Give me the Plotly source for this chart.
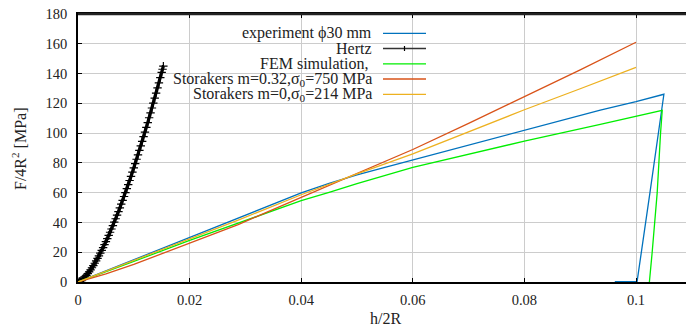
import plotly.graph_objects as go

# ---- data ----
exp_x = [0, 0.005, 0.01, 0.02, 0.03, 0.035, 0.04, 0.045, 0.05, 0.055, 0.06, 0.07, 0.0738, 0.08, 0.0936, 0.1, 0.105, 0.1025, 0.1002, 0.0962]
exp_y = [0, 7.5, 15.0, 29.9, 45.0, 52.6, 59.8, 66.2, 71.9, 77.0, 82.0, 92.0, 95.4, 101.5, 115.5, 121.1, 126.1, 60.0, 0.4, 0.3]

hertz_x = [0, 0.00025, 0.0005, 0.00075, 0.001, 0.00125, 0.0015, 0.00175, 0.002, 0.00225, 0.0025,
           0.00275, 0.003, 0.00325, 0.0035, 0.00375, 0.004, 0.00425, 0.0045, 0.00475, 0.005,
           0.00525, 0.0055, 0.00575, 0.006, 0.00625, 0.0065, 0.00675, 0.007, 0.00725, 0.0075,
           0.00775, 0.008, 0.00825, 0.0085, 0.00875, 0.009, 0.00925, 0.0095, 0.00975, 0.01,
           0.01025, 0.0105, 0.01075, 0.011, 0.01125, 0.0115, 0.01175, 0.012, 0.01225, 0.0125,
           0.01275, 0.013, 0.01325, 0.0135, 0.01375, 0.014, 0.01425, 0.0145, 0.01475, 0.015,
           0.01515, 0.0153]
hertz_y = [0, 0.30, 0.86, 1.57, 2.42, 3.39, 4.45, 5.61, 6.85, 8.18, 9.58,
           11.05, 12.59, 14.20, 15.86, 17.59, 19.38, 21.23, 23.13, 25.08, 27.09,
           29.15, 31.25, 33.41, 35.61, 37.86, 40.15, 42.49, 44.87, 47.30, 49.77,
           52.27, 54.82, 57.41, 60.04, 62.71, 65.42, 68.16, 70.94, 73.76, 76.62,
           79.51, 82.44, 85.40, 88.39, 91.43, 94.49, 97.59, 100.71, 103.88, 107.07,
           110.31, 113.57, 116.86, 120.18, 123.53, 126.92, 130.33, 133.78, 137.25, 140.75,
           142.88, 145.0]

fem_x = [0, 0.005, 0.01, 0.02, 0.0287, 0.04, 0.045, 0.05, 0.06, 0.07, 0.0738, 0.08, 0.0936, 0.1, 0.1047, 0.1044, 0.1038, 0.1029, 0.1024]
fem_y = [0, 6.8, 13.8, 28.0, 39.4, 54.6, 60.2, 66.0, 77.0, 86.0, 89.3, 94.6, 105.9, 111.3, 115.3, 100.0, 60.0, 20.0, 0]

sto1_x = [0, 0.005, 0.01, 0.02, 0.0287, 0.04, 0.05, 0.06, 0.07, 0.0738, 0.08, 0.09, 0.1]
sto1_y = [0, 5.4, 11.8, 26.3, 38.6, 56.9, 73.0, 89.0, 106.5, 113.3, 124.5, 142.5, 161.0]

sto2_x = [0, 0.005, 0.01, 0.02, 0.0287, 0.04, 0.05, 0.06, 0.07, 0.0738, 0.08, 0.09, 0.1]
sto2_y = [0, 7.2, 14.5, 29.1, 41.6, 58.6, 72.6, 86.0, 101.0, 106.6, 115.7, 129.8, 144.2]

x_ticks = [0, 0.02, 0.04, 0.06, 0.08, 0.1]
x_tick_labels = ["0", "0.02", "0.04", "0.06", "0.08", "0.1"]
y_ticks = [0, 20, 40, 60, 80, 100, 120, 140, 160, 180]

legend_labels = ["experiment ϕ30 mm", "Hertz", "FEM simulation, ",
                 "Storakers m=0.32,σ<sub>0</sub>=750 MPa", "Storakers m=0,σ<sub>0</sub>=214 MPa"]
colors = ["#0072bd", "#000000", "#00ee00", "#d95319", "#edb120"]

FONT = "Liberation Serif, Times New Roman, DejaVu Serif, serif"
TXT = "#222222"

fig = go.Figure()
fig.add_trace(go.Scatter(x=exp_x, y=exp_y, mode="lines", line=dict(color=colors[0], width=1.3), showlegend=False))
fig.add_trace(go.Scatter(x=hertz_x, y=hertz_y, mode="lines+markers",
                         line=dict(color=colors[1], width=3.2),
                         marker=dict(symbol="cross-thin", size=6, line=dict(color="black", width=1.2)),
                         showlegend=False))
fig.add_trace(go.Scatter(x=fem_x, y=fem_y, mode="lines", line=dict(color=colors[2], width=1.3), showlegend=False))
fig.add_trace(go.Scatter(x=sto1_x, y=sto1_y, mode="lines", line=dict(color=colors[3], width=1.3), showlegend=False))
fig.add_trace(go.Scatter(x=sto2_x, y=sto2_y, mode="lines", line=dict(color=colors[4], width=1.3), showlegend=False))

W, H = 686, 329
L, R, T, B = 78, 0, 14, 47
pw, ph = W - L - R, H - T - B

def px2paper(px, py):
    return (px - L) / pw, (H - B - py) / ph

shapes = []
annotations = []
# opaque key box (between grid and traces)
x0, y0 = px2paper(127, 101)
x1, y1 = px2paper(435, 21)
shapes.append(dict(type="rect", xref="paper", yref="paper", x0=x0, x1=x1, y0=y0, y1=y1,
                   fillcolor="white", line=dict(width=0), layer="between"))
rows = [33.3, 48.5, 63.8, 79.0, 94.3]
tx, _ = px2paper(374, 0)
lx0, _ = px2paper(383, 0)
lx1, _ = px2paper(426, 0)
for lab, col, ry in zip(legend_labels, colors, rows):
    _, yy = px2paper(0, ry)
    annotations.append(dict(xref="paper", yref="paper", x=tx, y=yy, text=lab, showarrow=False,
                            xanchor="right", yanchor="middle", font=dict(family=FONT, size=16, color=TXT)))
    shapes.append(dict(type="line", xref="paper", yref="paper", x0=lx0, x1=lx1, y0=yy, y1=yy,
                       line=dict(color=col if col != "#000000" else "#333333", width=1.3), layer="above"))
    if lab == "Hertz":
        cx = (lx0 + lx1) / 2
        dy = 2.5 / ph
        shapes.append(dict(type="line", xref="paper", yref="paper", x0=cx, x1=cx, y0=yy - dy, y1=yy + dy,
                           line=dict(color="black", width=1.2), layer="above"))

# top border
shapes.append(dict(type="line", xref="paper", yref="paper", x0=0, x1=1, y0=1, y1=1,
                   line=dict(color="#222222", width=2.5), layer="above"))

# axis titles
annotations.append(dict(xref="paper", yref="paper", x=px2paper(385, 0)[0], y=px2paper(0, 318)[1],
                        text="h/2R", showarrow=False, xanchor="center", yanchor="middle",
                        font=dict(family=FONT, size=16, color=TXT)))
annotations.append(dict(xref="paper", yref="paper", x=px2paper(19, 0)[0], y=px2paper(0, 149)[1],
                        text="F/4R<sup>2</sup> [MPa]", showarrow=False, textangle=-90,
                        xanchor="center", yanchor="middle",
                        font=dict(family=FONT, size=16, color=TXT)))

fig.update_layout(
    width=W, height=H,
    margin=dict(l=L, r=R, t=T, b=B),
    plot_bgcolor="white", paper_bgcolor="white",
    shapes=shapes, annotations=annotations,
    showlegend=False,
)
fig.update_xaxes(range=[0, (W - L) / 5580], tickvals=x_ticks, ticktext=x_tick_labels,
                 showgrid=True, gridcolor="#cccccc", gridwidth=1.2, zeroline=False,
                 showline=True, linecolor="black", linewidth=1.5, mirror="ticks",
                 ticks="inside", ticklen=4, tickcolor="black", tickwidth=1,
                 ticklabelstandoff=4,
                 tickfont=dict(family=FONT, size=14.5, color=TXT))
fig.update_yaxes(range=[0, 180], tickvals=y_ticks,
                 showgrid=True, gridcolor="#cccccc", gridwidth=1.2, zeroline=False,
                 showline=True, linecolor="black", linewidth=1.5, mirror=False,
                 ticks="inside", ticklen=4, tickcolor="black", tickwidth=1,
                 ticklabelstandoff=6,
                 tickfont=dict(family=FONT, size=14.5, color=TXT))

fig.write_html("out.html", config={"displayModeBar": False},
               post_script="document.body.style.margin='0px';document.body.style.overflow='hidden';")
